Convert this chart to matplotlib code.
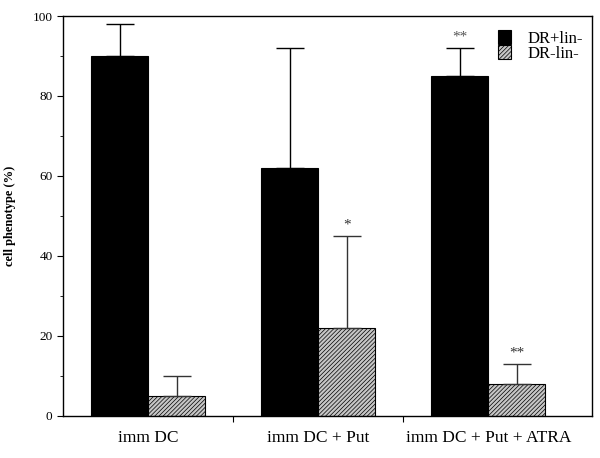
import matplotlib
matplotlib.use("Agg")
import matplotlib.pyplot as plt
import numpy as np

plt.rcParams["font.family"] = ["Liberation Serif", "DejaVu Serif"]
plt.rcParams["hatch.color"] = "#8a8a8a"
plt.rcParams["hatch.linewidth"] = 0.5

categories = ["imm DC", "imm DC + Put", "imm DC + Put + ATRA"]
dr_pos = [90, 62, 85]
dr_pos_err = [8, 30, 7]
dr_neg = [5, 22, 8]
dr_neg_err = [5, 23, 5]
pos_marks = ["", "", "**"]
neg_marks = ["", "*", "**"]

fig = plt.figure(figsize=(6.0, 4.58), dpi=100)
ax = fig.add_axes([0.105, 0.092, 0.882, 0.873])

x = np.arange(len(categories))
w = 0.335
ax.bar(x - w / 2, dr_pos, w, color="black", edgecolor="black", linewidth=0.8,
       label="DR+lin-")
ax.bar(x + w / 2, dr_neg, w, color="#c6c6c6", edgecolor="black", linewidth=0.8,
       hatch="////////", label="DR-lin-")
ax.errorbar(x - w / 2, dr_pos, yerr=[np.zeros(3), dr_pos_err], fmt="none",
            ecolor="black", elinewidth=1, capsize=10, capthick=1)
ax.errorbar(x + w / 2, dr_neg, yerr=[np.zeros(3), dr_neg_err], fmt="none",
            ecolor="#333333", elinewidth=1, capsize=10, capthick=1)

for i in range(len(categories)):
    if pos_marks[i]:
        ax.text(x[i] - w / 2, dr_pos[i] + dr_pos_err[i] + 1.2, pos_marks[i],
                ha="center", va="bottom", fontsize=11, color="#555555")
    if neg_marks[i]:
        ax.text(x[i] + w / 2, dr_neg[i] + dr_neg_err[i] + 1.2, neg_marks[i],
                ha="center", va="bottom", fontsize=11, color="#333333")

ax.set_xlim(-0.5, 2.61)
ax.set_ylim(0, 100)
ax.set_yticks(np.arange(0, 101, 20))
ax.set_yticks(np.arange(0, 101, 10), minor=True)
ax.set_xticks([0.5, 1.5], minor=False)
ax.set_xticklabels([])
ax.set_xticks(x, minor=True)
ax.set_xticklabels(categories, minor=True, fontsize=12.5)
ax.tick_params(axis="x", which="minor", length=0, pad=10)
ax.tick_params(axis="x", which="major", length=4, direction="out")
ax.tick_params(axis="y", which="major", length=4, labelsize=9.5, direction="out")
ax.tick_params(axis="y", which="minor", length=2, direction="out")
ax.set_ylabel("cell phenotype (%)", fontsize=9, fontweight="bold", labelpad=12)

for s in ax.spines.values():
    s.set_linewidth(1)

ax.legend(loc="upper right", bbox_to_anchor=(1.0, 0.988), frameon=False,
          fontsize=12, handlelength=0.8, handleheight=0.9, handletextpad=1.0,
          labelspacing=-0.1, borderaxespad=0.25, borderpad=0.3)

fig.savefig("out.png", dpi=100)
